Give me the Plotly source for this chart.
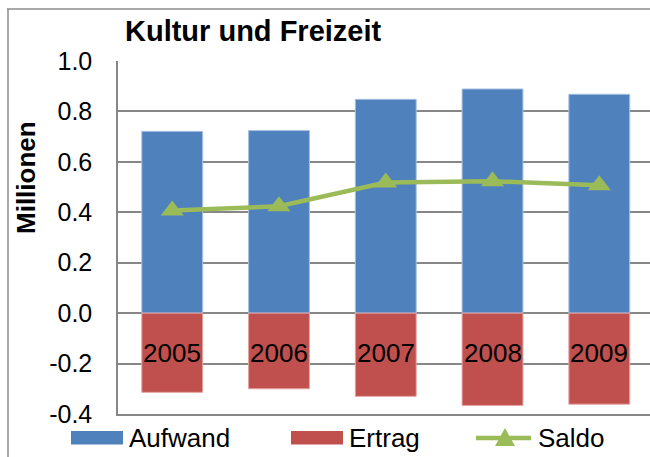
import plotly.graph_objects as go

years = ["2005", "2006", "2007", "2008", "2009"]
aufwand = [0.721, 0.724, 0.848, 0.889, 0.868]
ertrag = [-0.314, -0.300, -0.330, -0.366, -0.361]
saldo = [0.407, 0.424, 0.518, 0.523, 0.507]
y_ticks = [1.0, 0.8, 0.6, 0.4, 0.2, 0.0, -0.2, -0.4]
y_tick_labels = ["%.1f" % v for v in y_ticks]

BLUE = "#4F81BD"
RED = "#C0504D"
GREEN = "#9BBB59"
GRID = "#878787"
FONT = "Liberation Sans, Arial, sans-serif"

W, H = 650, 457
ML, MR, MT, MB = 118, 0, 61, 43
PL, PR, PT, PB = ML, W - MR, MT, H - MB


def px(x):
    return (x - PL) / (PR - PL)


def py(y):
    return (PB - y) / (PB - PT)


fig = go.Figure()
fig.add_trace(go.Bar(x=years, y=aufwand, name="Aufwand", marker=dict(color=BLUE, line=dict(color="#A7C0E0", width=1))))
fig.add_trace(go.Bar(x=years, y=ertrag, name="Ertrag", marker=dict(color=RED, line=dict(color="#E3A3A1", width=1))))
fig.add_trace(go.Scatter(x=years, y=saldo, name="Saldo", mode="lines+markers",
                         line=dict(color=GREEN, width=4.5),
                         marker=dict(symbol="triangle-up", size=20, color=GREEN)))

annotations = []
for i, yr in enumerate(years):
    annotations.append(dict(x=i, y=0, xref="x", yref="y", text=yr, showarrow=False,
                            yshift=-40, yanchor="middle", xanchor="center",
                            font=dict(size=26, color="black", family=FONT)))

annotations.append(dict(x=px(123), y=py(31), xref="paper", yref="paper", text="<b>Kultur und Freizeit</b>",
                        showarrow=False, xanchor="left", yanchor="middle",
                        font=dict(size=29, color="black", family=FONT)))
annotations.append(dict(x=px(26), y=py(178), xref="paper", yref="paper", text="<b>Millionen</b>",
                        showarrow=False, textangle=-90, xanchor="center", yanchor="middle",
                        font=dict(size=26, color="black", family=FONT)))

# legend
shapes = []
shapes.append(dict(type="rect", xref="paper", yref="paper", x0=px(71), x1=px(123), y0=py(444.5), y1=py(431),
                   fillcolor=BLUE, line=dict(width=0)))
shapes.append(dict(type="rect", xref="paper", yref="paper", x0=px(291), x1=px(343), y0=py(444.5), y1=py(431),
                   fillcolor=RED, line=dict(width=0)))
shapes.append(dict(type="line", xref="paper", yref="paper", x0=px(476), x1=px(531), y0=py(438), y1=py(438),
                   line=dict(color=GREEN, width=4.5)))
shapes.append(dict(type="path", xref="paper", yref="paper",
                   path="M {a},{b} L {c},{b} L {d},{e} Z".format(a=px(495), c=px(515), d=px(505), b=py(446), e=py(428)),
                   fillcolor=GREEN, line=dict(width=0)))
for txt, xx in [("Aufwand", 127), ("Ertrag", 347), ("Saldo", 536)]:
    annotations.append(dict(x=px(xx), y=py(438), xref="paper", yref="paper", text=txt, showarrow=False,
                            xanchor="left", yanchor="middle", font=dict(size=26, color="black", family=FONT)))

# outer border
shapes.append(dict(type="line", xref="paper", yref="paper", x0=px(7), x1=px(660), y0=py(9), y1=py(9),
                   line=dict(color="#8C8C8C", width=1.5)))
shapes.append(dict(type="line", xref="paper", yref="paper", x0=px(8), x1=px(8), y0=py(9), y1=py(470),
                   line=dict(color="#8C8C8C", width=1.5)))

fig.update_layout(
    width=W, height=H,
    margin=dict(l=ML, r=MR, t=MT, b=MB, pad=0),
    paper_bgcolor="white", plot_bgcolor="white",
    barmode="relative", bargap=0.43,
    showlegend=False,
    font=dict(family=FONT, color="black"),
    annotations=annotations, shapes=shapes,
    xaxis=dict(type="category", range=[-0.508, 4.475], showticklabels=False, ticks="",
               showgrid=False, zeroline=False, showline=True, linecolor=GRID, linewidth=1.5),
    yaxis=dict(range=[-0.4, 1.0], tickvals=y_ticks, ticktext=y_tick_labels, ticks="",
               showgrid=True, gridcolor=GRID, gridwidth=1.5,
               zeroline=True, zerolinecolor=GRID, zerolinewidth=1.5,
               showline=True, linecolor=GRID, linewidth=1.5,
               ticklabelstandoff=19, tickfont=dict(size=25, color="black", family=FONT)),
)

fig.write_html("out.html", config={"displayModeBar": False})

with open("out.html", "r", encoding="utf-8") as f:
    html = f.read()
html = html.replace("<head>", "<head><style>html,body{margin:0;padding:0;overflow:hidden;}</style>", 1)
with open("out.html", "w", encoding="utf-8") as f:
    f.write(html)
